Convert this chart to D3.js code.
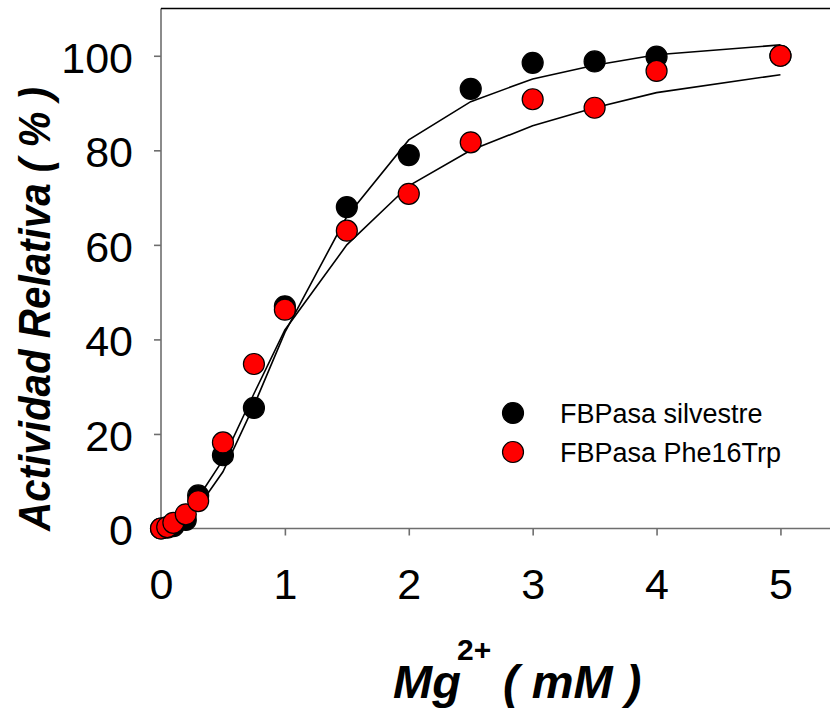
<!DOCTYPE html>
<html>
<head>
<meta charset="utf-8">
<script src="https://cdn.jsdelivr.net/npm/d3@7"></script>
<style>
    body { margin: 0; background: #fff; }
    #chart-area { width: 830px; height: 709px; }
    .axis text { font-family: "Liberation Sans", Arial, sans-serif; font-size: 43px; fill: #000; }
    .axis path, .axis line { stroke: #6e6e6e; stroke-width: 1.6; }
    .axis-title { font-family: "Liberation Sans", Arial, sans-serif; font-weight: bold; font-style: italic; }
    .legend text { font-family: "Liberation Sans", Arial, sans-serif; font-size: 27px; }
</style>
</head>
<body>
<div id="chart-area"></div>
<script>

// Mg2+ concentration (mM)
const concentrations = [0, 0.05, 0.1, 0.2, 0.3, 0.5, 0.75, 1, 1.5, 2, 2.5, 3, 3.5, 4, 5];

// measured relative activity (%)
const wildType = [0, 0.2, 0.5, 1.8, 7, 15.5, 25.5, 47, 68, 79, 93, 98.5, 98.8, 99.8, 100];
const mutant = [0, 0.3, 1.2, 3, 5.8, 18.2, 34.8, 46.3, 63, 70.8, 81.7, 90.8, 89, 96.8, 100];

// fitted curves, read at the same concentrations
const wildTypeFit = [0, 0.1, 0.4, 2, 4.5, 12, 26, 41.5, 66, 82.2, 90.3, 95.1, 98, 100.2, 102.3];
const mutantFit = [0, 0.3, 1, 3.3, 6.5, 14.5, 28.5, 42, 60, 72.5, 80, 85.2, 89, 92.2, 96];

const seriesNames = ["FBPasa silvestre", "FBPasa Phe16Trp"];
const seriesColors = ["#000000", "#ff0000"];

const xTicks = [0, 1, 2, 3, 4, 5];
const yTicks = [0, 20, 40, 60, 80, 100];


class ActivityChart {

    constructor(parentElement) {
        this.parentElement = parentElement;
        this.initVis();
    }

    initVis() {
        let vis = this;

        vis.margin = {top: 8.5, right: 0, bottom: 180.5, left: 161};
        vis.width = 830 - vis.margin.left - vis.margin.right;
        vis.height = 709 - vis.margin.top - vis.margin.bottom;

        vis.root = d3.select("#" + vis.parentElement).append("svg")
            .attr("width", 830)
            .attr("height", 709);
        vis.svg = vis.root.append("g")
            .attr("transform", `translate(${vis.margin.left}, ${vis.margin.top})`);

        vis.x = d3.scaleLinear()
            .domain([0, 5.4])
            .range([0, vis.width]);
        vis.y = d3.scaleLinear()
            .domain([0, 110])
            .range([vis.height, 0]);

        vis.xAxis = d3.axisBottom(vis.x)
            .tickValues(xTicks)
            .tickSize(7)
            .tickPadding(33)
            .tickFormat(d3.format("d"));
        vis.yAxis = d3.axisLeft(vis.y)
            .tickValues(yTicks)
            .tickSize(7)
            .tickPadding(21)
            .tickFormat(d3.format("d"));

        vis.svg.append("g")
            .attr("class", "x-axis axis")
            .attr("transform", "translate(0, " + vis.height + ")")
            .call(vis.xAxis)
            .call(g => g.select(".domain").attr("d", `M0,0H${vis.width}`));
        vis.svg.append("g")
            .attr("class", "y-axis axis")
            .call(vis.yAxis)
            .call(g => g.select(".domain").attr("d", `M0,0V${vis.height}`))
            .selectAll(".tick text").attr("dy", "0.38em");

        // top frame line
        vis.svg.append("line")
            .attr("x1", 0).attr("x2", vis.width)
            .attr("y1", 0).attr("y2", 0)
            .attr("stroke", "#000")
            .attr("stroke-width", 1.6);

        // axis titles
        vis.root.append("text")
            .attr("class", "axis-title")
            .attr("transform", "translate(50, 309) rotate(-90)")
            .attr("text-anchor", "middle")
            .attr("font-size", 44)
            .attr("textLength", 444)
            .attr("lengthAdjust", "spacingAndGlyphs")
            .text("Actividad Relativa ( % )");

        let xTitle = vis.root.append("text")
            .attr("class", "axis-title")
            .attr("x", 393)
            .attr("y", 698)
            .attr("font-size", 47);
        xTitle.append("tspan").text("Mg");
        xTitle.append("tspan")
            .attr("x", 457)
            .attr("y", 660)
            .attr("font-size", 30)
            .attr("font-style", "normal")
            .text("2+");
        xTitle.append("tspan")
            .attr("x", 503)
            .attr("y", 698)
            .text("( mM )");

        vis.wrangleData();
    }

    wrangleData() {
        let vis = this;

        vis.points = [wildType, mutant].map((values, i) =>
            concentrations.map((c, j) => ({x: c, y: values[j], series: i})));
        vis.fits = [wildTypeFit, mutantFit].map(values =>
            concentrations.map((c, j) => [c, values[j]]));

        vis.updateVis();
    }

    updateVis() {
        let vis = this;

        let line = d3.line()
            .x(d => vis.x(d[0]))
            .y(d => vis.y(d[1]));

        vis.svg.selectAll(".fit-line")
            .data(vis.fits)
            .enter().append("path")
            .attr("class", "fit-line")
            .attr("fill", "none")
            .attr("stroke", "#000")
            .attr("stroke-width", 1.6)
            .attr("d", line);

        vis.points.forEach((pts, i) => {
            vis.svg.selectAll(".dot-" + i)
                .data(pts)
                .enter().append("circle")
                .attr("class", "dot-" + i)
                .attr("cx", d => vis.x(d.x))
                .attr("cy", d => vis.y(d.y))
                .attr("r", 10.5)
                .attr("fill", seriesColors[i])
                .attr("stroke", "#000")
                .attr("stroke-width", 1.2);
        });

        // legend
        let legend = vis.root.append("g")
            .attr("class", "legend")
            .attr("transform", "translate(513, 413)");
        let rows = legend.selectAll(".legend-row")
            .data(seriesNames)
            .enter().append("g")
            .attr("class", "legend-row")
            .attr("transform", (d, i) => `translate(0, ${i * 39})`);
        rows.append("circle")
            .attr("r", 10.5)
            .attr("fill", (d, i) => seriesColors[i])
            .attr("stroke", "#000")
            .attr("stroke-width", 1.2);
        rows.append("text")
            .attr("x", 47)
            .attr("dy", "0.36em")
            .text(d => d);
    }
}

let chart = new ActivityChart("chart-area");
</script>
</body>
</html>
